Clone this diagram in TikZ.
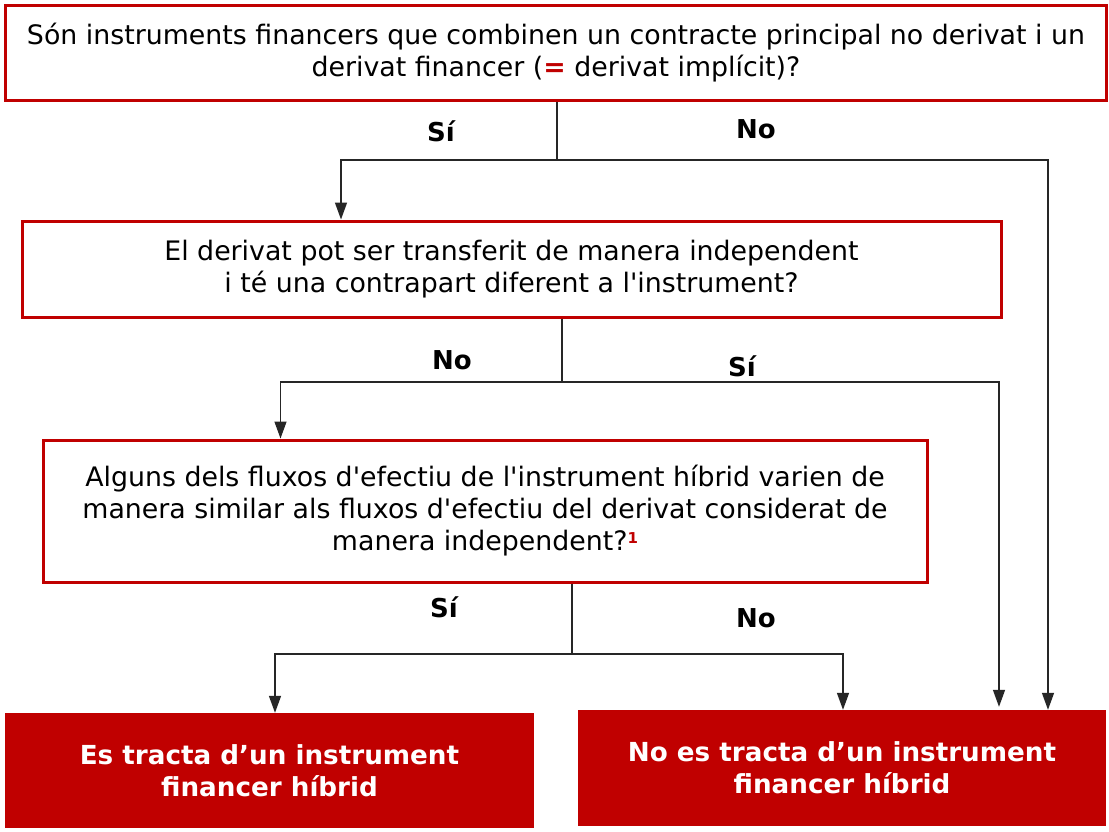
\documentclass[tikz,border=0pt]{standalone}
\usepackage{fontspec}
\setmainfont{DejaVu Sans}
\usetikzlibrary{arrows.meta}
\definecolor{dred}{RGB}{192,0,0}
\begin{document}
\begin{tikzpicture}[x=1pt,y=-1pt,
  qbox/.style={draw=dred,line width=3pt,fill=white,align=center,inner sep=0pt,
    font=\fontsize{26.8}{32}\selectfont},
  abox/.style={fill=dred,text=white,align=center,inner sep=0pt,
    font=\fontsize{26.2}{32}\selectfont\bfseries},
  lbl/.style={font=\fontsize{26}{30}\selectfont\bfseries},
  conn/.style={line width=1.4pt,draw=black!85},
  arr/.style={conn,-{Triangle[width=12pt,length=17pt]}}]
\useasboundingbox[fill=white] (0,0) rectangle (1109,831);
\node[qbox,minimum width=1101pt,minimum height=95pt] (b1) at (556,52.5)
  {Són instruments financers que combinen un contracte principal no derivat i un\\
   derivat financer ({\color{dred}\bfseries =} derivat implícit)?};
\node[qbox,minimum width=979pt,minimum height=96pt] (b2) at (511.5,269)
  {El derivat pot ser transferit de manera independent\\
   i té una contrapart diferent a l\textquotesingle instrument?};
\node[qbox,minimum width=884pt,minimum height=142pt] (b3) at (485,511)
  {Alguns dels fluxos d\textquotesingle efectiu de l\textquotesingle instrument híbrid varien de\\
   manera similar als fluxos d\textquotesingle efectiu del derivat considerat de\\
   manera independent?\raisebox{0.5ex}{\color{dred}\bfseries\fontsize{15}{15}\selectfont 1}};
\node[abox,minimum width=529pt,minimum height=115pt] (b4) at (269.5,770.5)
  {Es tracta d’un instrument\\financer híbrid};
\node[abox,minimum width=528pt,minimum height=116pt] (b5) at (842,768)
  {No es tracta d’un instrument\\financer híbrid};
% junctions
\coordinate (j1) at (557,160);
\coordinate (j2) at (562,382);
\coordinate (j3) at (572,654);
% from b1
\draw[conn] (b1.south -| j1) -- (j1);
\draw[arr] (j1) -| ([xshift=-170.5pt]b2.north);
\draw[arr] (j1) -| ([xshift=206pt]b5.north);
% from b2
\draw[conn] (b2.south -| j2) -- (j2);
\draw[arr] (j2) -| ([xshift=-204.5pt]b3.north);
\draw[arr] (j2) -| ([xshift=157pt,yshift=3pt]b5.north);
% from b3
\draw[conn] (b3.south -| j3) -- (j3);
\draw[arr] (j3) -| ([xshift=5.5pt]b4.north);
\draw[arr] (j3) -| ([xshift=1pt]b5.north);
% labels
\node[lbl] (l1) at (441,131) {Sí};
\node[lbl] (l2) at (756,129) {No};
\node[lbl] (l3) at (452,360) {No};
\node[lbl] (l4) at (742,366) {Sí};
\node[lbl] (l5) at (444,607) {Sí};
\node[lbl] (l6) at (756,618) {No};
\end{tikzpicture}
\end{document}
